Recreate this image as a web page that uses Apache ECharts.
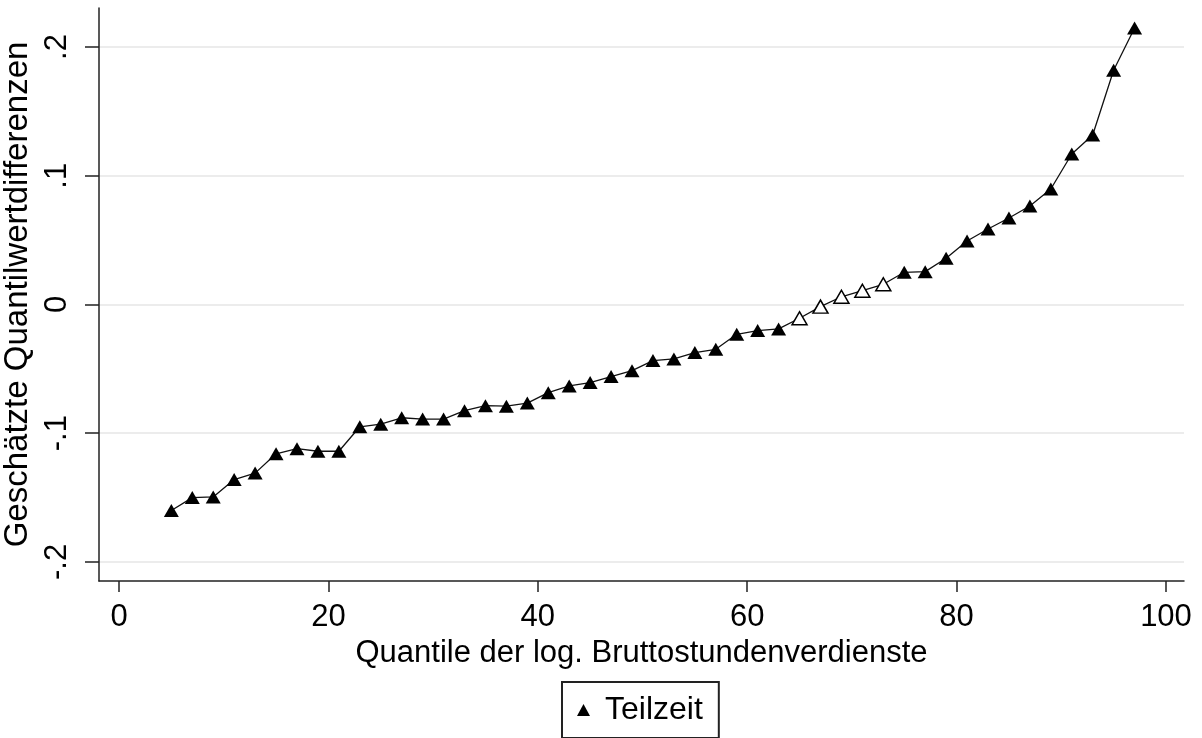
<!DOCTYPE html>
<html>
<head>
<meta charset="utf-8">
<script src="https://cdn.jsdelivr.net/npm/echarts@6/dist/echarts.min.js"></script>
<style>
html,body{margin:0;padding:0;background:#fff;}
#chart{width:1202px;height:738px;}
</style>
</head>
<body>
<div id="chart"></div>
<script>
// Quantiles (x) and estimated quantile differences (y)
const quantiles = [5,7,9,11,13,15,17,19,21,23,25,27,29,31,33,35,37,39,41,43,45,47,49,51,53,55,57,59,61,63,65,67,69,71,73,75,77,79,81,83,85,87,89,91,93,95,97];
const differences = [-0.160,-0.150,-0.1495,-0.136,-0.131,-0.116,-0.112,-0.114,-0.114,-0.095,-0.093,-0.088,-0.089,-0.089,-0.0825,-0.0786,-0.079,-0.0766,-0.0685,-0.0633,-0.0607,-0.056,-0.0514,-0.0436,-0.0423,-0.0374,-0.0348,-0.0232,-0.0203,-0.019,-0.0107,-0.0017,0.006,0.0107,0.0157,0.025,0.0255,0.0359,0.0493,0.0586,0.0672,0.0765,0.0897,0.1169,0.1317,0.182,0.2148];
// significant = filled marker, not significant = hollow marker
const significant = [1,1,1,1,1,1,1,1,1,1,1,1,1,1,1,1,1,1,1,1,1,1,1,1,1,1,1,1,1,1,0,0,0,0,0,1,1,1,1,1,1,1,1,1,1,1,1];
const seriesName = 'Teilzeit';
const xTickValues = [0,20,40,60,80,100];
const yTickValues = [-0.2,-0.1,0,0.1,0.2];
const yTickLabels = ['-.2','-.1','0','.1','.2'];
const xTitle = 'Quantile der log. Bruttostundenverdienste';
const yTitle = 'Geschätzte Quantilwertdifferenzen';

const font = 'Liberation Sans, Arial, sans-serif';
const seriesData = quantiles.map((q, i) => {
  const item = { value: [q, differences[i]] };
  if (!significant[i]) {
    item.itemStyle = { color: '#ffffff', borderColor: '#000000', borderWidth: 1.5 };
  }
  return item;
});

const chart = echarts.init(document.getElementById('chart'), null, { renderer: 'canvas' });
chart.setOption({
  animation: false,
  backgroundColor: '#ffffff',
  grid: { left: 99, right: 18, top: 8, bottom: 157, containLabel: false, outerBoundsMode: 'none' },
  xAxis: {
    type: 'value',
    min: -1.91,
    max: 101.72,
    name: xTitle,
    nameLocation: 'middle',
    nameGap: 50,
    nameTextStyle: { fontFamily: font, fontSize: 31, color: '#000' },
    axisLine: { show: true, onZero: false, lineStyle: { color: '#222', width: 1.5 } },
    axisTick: { show: true, length: 11, customValues: xTickValues, lineStyle: { color: '#222', width: 1.5 } },
    axisLabel: { customValues: xTickValues, margin: 21, fontFamily: font, fontSize: 31, color: '#000' },
    splitLine: { show: false }
  },
  yAxis: {
    type: 'value',
    min: -0.2148,
    max: 0.2303,
    name: yTitle,
    nameLocation: 'middle',
    nameGap: 49,
    nameTextStyle: { fontFamily: font, fontSize: 33, color: '#000' },
    axisLine: { show: true, onZero: false, lineStyle: { color: '#222', width: 1.5 } },
    axisTick: { show: true, length: 14, customValues: yTickValues, lineStyle: { color: '#222', width: 1.5 } },
    axisLabel: {
      customValues: yTickValues,
      rotate: 90,
      margin: 26,
      fontFamily: font, fontSize: 31, color: '#000',
      formatter: function (v) {
        let best = 0;
        yTickValues.forEach((t, i) => { if (Math.abs(t - v) < Math.abs(yTickValues[best] - v)) best = i; });
        return yTickLabels[best];
      }
    },
    splitLine: { show: true, lineStyle: { color: '#e6e6e6', width: 1.5 } }
  },
  legend: {
    data: [seriesName],
    left: 562,
    top: 682,
    icon: 'triangle',
    itemWidth: 13,
    itemHeight: 12,
    padding: [12, 16, 12, 15],
    borderColor: '#222',
    borderWidth: 2,
    textStyle: { fontFamily: font, fontSize: 32, color: '#000', padding: [0, 0, 0, 10] }
  },
  series: [{
    name: seriesName,
    type: 'line',
    data: seriesData,
    symbol: 'triangle',
    symbolSize: [15, 13],
    showAllSymbol: true,
    itemStyle: { color: '#000000' },
    lineStyle: { color: '#111111', width: 1.3 }
  }]
});
</script>
</body>
</html>
